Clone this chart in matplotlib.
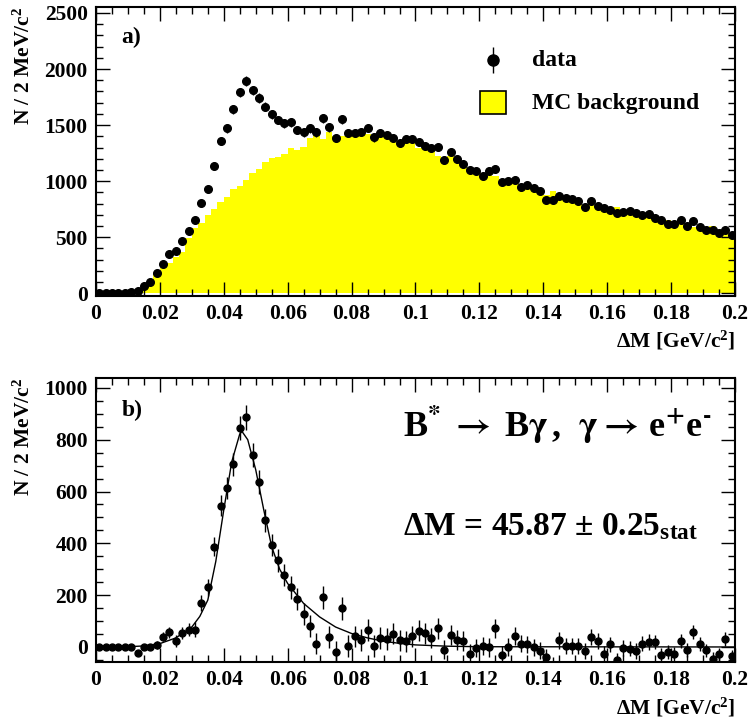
import numpy as np
import matplotlib
matplotlib.use("Agg")
import matplotlib.pyplot as plt
from matplotlib.patches import Rectangle
from matplotlib.ticker import MultipleLocator, FuncFormatter

# ── Style (ROOT-like, Times bold) ──────────────────────────────────────────────
plt.rcParams["font.family"] = ["Liberation Serif", "DejaVu Serif"]
plt.rcParams["font.weight"] = "bold"
plt.rcParams["axes.labelweight"] = "bold"
plt.rcParams["mathtext.fontset"] = "custom"
plt.rcParams["mathtext.rm"] = "Liberation Serif:bold"
plt.rcParams["mathtext.it"] = "Liberation Serif:bold:italic"
plt.rcParams["mathtext.bf"] = "Liberation Serif:bold"
plt.rcParams["mathtext.default"] = "rm"

# ── Data: 100 bins of 2 MeV from 0 to 0.2 GeV ─────────────────────────────────
n_bins = 100
dm_lo, dm_hi = 0.0, 0.2

# a) data counts per bin
data_a = [5, 5, 5, 5, 5, 10, 23, 68, 103, 184,
          258, 347, 380, 463, 558, 650, 802, 927, 1135, 1360,
          1470, 1640, 1791, 1892, 1809, 1743, 1663, 1598, 1545, 1515,
          1524, 1458, 1435, 1470, 1435, 1560, 1480, 1387, 1551, 1431,
          1431, 1440, 1473, 1390, 1429, 1411, 1384, 1342, 1375, 1375,
          1348, 1315, 1298, 1307, 1188, 1257, 1200, 1150, 1102, 1093,
          1048, 1093, 1111, 995, 1001, 1013, 947, 965, 936, 912,
          832, 832, 867, 847, 840, 820, 772, 823, 778, 760,
          745, 718, 727, 731, 718, 695, 704, 674, 650, 620,
          620, 653, 603, 642, 594, 561, 561, 535, 564, 520]

# a) MC background per bin
mc_bkg = [0, 0, 0, 0, 0, 0, 15, 50, 92, 172,
          222, 267, 326, 371, 490, 579, 629, 698, 749, 816,
          856, 930, 956, 1010, 1069, 1108, 1173, 1209, 1215, 1241,
          1292, 1277, 1307, 1387, 1415, 1372, 1440, 1402, 1402, 1411,
          1417, 1426, 1417, 1402, 1396, 1387, 1366, 1342, 1360, 1342,
          1292, 1277, 1268, 1223, 1194, 1223, 1188, 1150, 1114, 1099,
          1075, 1063, 1045, 1016, 1010, 983, 971, 956, 941, 906,
          876, 912, 862, 847, 832, 816, 787, 802, 778, 772,
          758, 766, 742, 736, 727, 704, 707, 683, 668, 653,
          647, 629, 609, 588, 588, 573, 600, 564, 549, 504]

# b) background-subtracted data per bin
data_b = [0, 0, 0, 0, 0, 0, -22, 0, 0, 9,
          39, 57, 23, 54, 67, 67, 170, 230, 387, 545,
          614, 706, 845, 886, 742, 637, 489, 394, 334, 277,
          230, 186, 127, 81, 13, 191, 39, -19, 149, 3,
          41, 28, 66, 4, 35, 31, 52, 26, 22, 41,
          63, 53, 34, 72, -10, 45, 27, 23, -26, -4,
          4, -1, 72, -32, -1, 44, 13, 10, -2, -14,
          -40, -72, 26, 3, 3, 3, -15, 39, 23, -26,
          10, -51, -4, -6, -15, 13, 19, 19, -32, -19,
          -26, 23, -13, 58, 10, -13, -45, -28, 30, -35]

# b) fit curve
fit_x = [0.000, 0.010, 0.015, 0.020, 0.025, 0.030, 0.0325, 0.035, 0.0375,
         0.040, 0.0425, 0.045, 0.0457, 0.0475, 0.050, 0.0525, 0.055, 0.0575,
         0.060, 0.065, 0.070, 0.075, 0.080, 0.085, 0.090, 0.095, 0.100,
         0.110, 0.120, 0.200]
fit_y = [0, 1, 4, 13, 35, 77, 118, 181, 330,
         529, 715, 822, 832, 800, 684, 530, 387, 300,
         245, 168, 116, 77, 52, 35, 22, 14, 8,
         3, 1, 0]

edges = np.linspace(dm_lo, dm_hi, n_bins + 1)
centers = 0.5 * (edges[:-1] + edges[1:])
data_a = np.array(data_a, dtype=float)
data_b = np.array(data_b, dtype=float)
err_a = np.sqrt(data_a)
err_b = 1.1 * np.sqrt(data_a)


def style_axes(ax, ymaj, ymin):
    ax.set_xlim(dm_lo, dm_hi)
    ax.xaxis.set_major_locator(MultipleLocator(0.02))
    ax.xaxis.set_minor_locator(MultipleLocator(0.005))
    ax.yaxis.set_major_locator(MultipleLocator(ymaj))
    ax.yaxis.set_minor_locator(MultipleLocator(ymin))
    ax.xaxis.set_major_formatter(FuncFormatter(lambda v, p: f"{v:g}"))
    ax.tick_params(which="both", direction="in", top=True, right=True,
                   width=1.0, labelsize=15.5, color="black")
    ax.tick_params(which="major", length=10)
    ax.tick_params(which="minor", length=5)
    ax.tick_params(axis="x", pad=6)
    ax.tick_params(axis="y", pad=6)
    for s in ax.spines.values():
        s.set_linewidth(1.5)
    ax.set_xlabel(r"ΔM [GeV/c$^{2}$]", fontsize=15.5, fontweight="bold",
                  ha="right", x=1.0)
    ax.text(-0.113, 1.0, r"N / 2 MeV/c$^{2}$", transform=ax.transAxes,
            rotation=90, ha="center", va="top", fontsize=15.5,
            fontweight="bold")


fig = plt.figure(figsize=(7.48, 7.27), dpi=100)

# ── a) data vs MC background ───────────────────────────────────────────────────
ax1 = fig.add_axes([0.1283, 0.5935, 0.8543, 0.3968])
ax1.stairs(mc_bkg, edges, fill=True, color="#ffff00", linewidth=0)
ax1.errorbar(centers, data_a, yerr=err_a, fmt="o", color="black",
             markersize=5.5, elinewidth=1.0, capsize=0)
ax1.set_ylim(-20, 2553)
style_axes(ax1, 500, 100)
ax1.text(0.040, 0.896, "a)", transform=ax1.transAxes, fontsize=17,
         ha="left", va="center")

# legend drawn by hand to match the ROOT layout
ax1.errorbar([0.621], [0.816], yerr=[0.045], fmt="o", color="black",
             markersize=8, elinewidth=1.0, capsize=0, transform=ax1.transAxes)
ax1.add_patch(Rectangle((0.601, 0.629), 0.041, 0.080, transform=ax1.transAxes,
                        facecolor="#ffff00", edgecolor="black", linewidth=1.2))
ax1.text(0.682, 0.816, "data", transform=ax1.transAxes, fontsize=17,
         ha="left", va="center")
ax1.text(0.682, 0.667, "MC background", transform=ax1.transAxes, fontsize=17,
         ha="left", va="center")

# ── b) background-subtracted signal with fit ──────────────────────────────────
ax2 = fig.add_axes([0.1283, 0.0894, 0.8543, 0.3906])
ax2.errorbar(centers, data_b, yerr=err_b, fmt="o", color="black",
             markersize=5, elinewidth=1.0, capsize=0)
ax2.plot(fit_x, fit_y, color="black", linewidth=1.0)
ax2.set_ylim(-58, 1038)
style_axes(ax2, 200, 50)
ax2.text(0.040, 0.886, "b)", transform=ax2.transAxes, fontsize=17,
         ha="left", va="center")
ax2.text(0.480, 0.792,
         r"B$^{\mathbf{*}}\;\mathbf{\rightarrow}\;$B$\mathbf{\gamma}\,$,  "
         r"$\mathbf{\gamma}\mathbf{\rightarrow}\,$e$^{\mathbf{+}}$"
         r"e$^{\mathbf{\text{-}}}$",
         transform=ax2.transAxes, fontsize=26, ha="left", va="baseline",
         math_fontfamily="stix")
ax2.text(0.480, 0.447, r"ΔM = 45.87 ± 0.25$_{\mathrm{stat}}$",
         transform=ax2.transAxes, fontsize=24, ha="left", va="baseline")

fig.savefig("out.png", dpi=100)
